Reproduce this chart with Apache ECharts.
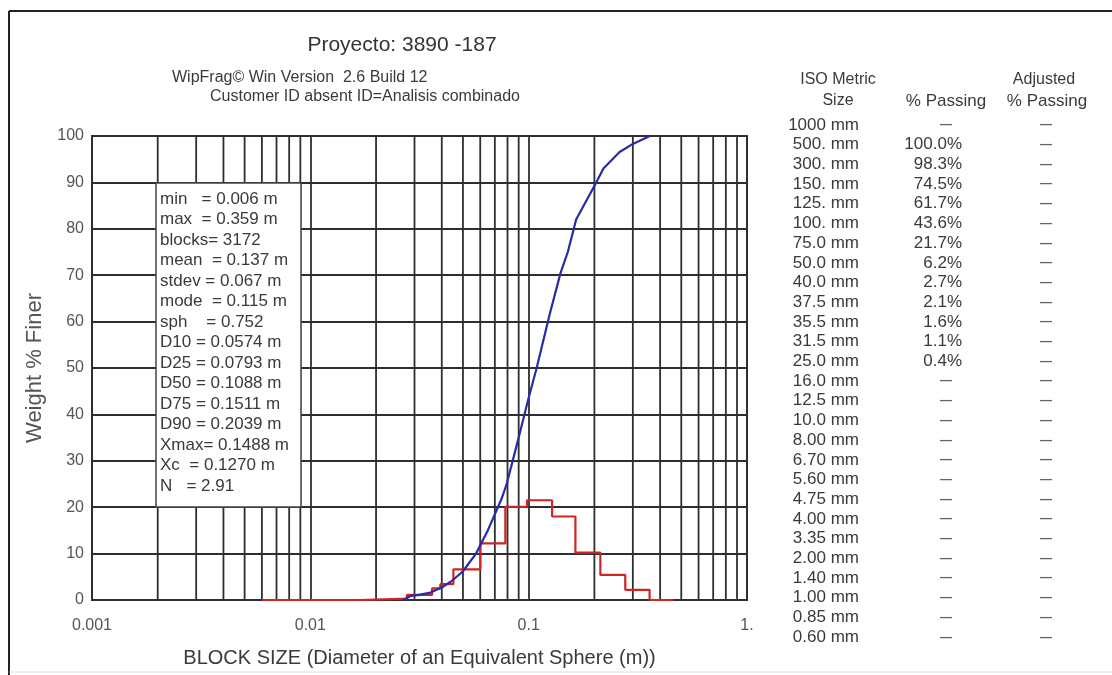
<!DOCTYPE html>
<html>
<head>
<meta charset="utf-8">
<title>WipFrag - Proyecto 3890 -187</title>
<script src="https://cdn.jsdelivr.net/npm/echarts@6/dist/echarts.min.js"></script>
<style>
  html, body { margin: 0; padding: 0; background: #fff; }
  #main { width: 1112px; height: 675px; }
</style>
</head>
<body>
<div id="main"></div>
<script>
// curva acumulada (% pasante)
const cumSize = [0.0265, 0.029, 0.0315, 0.0355, 0.04, 0.045, 0.05, 0.0574, 0.065, 0.075, 0.0793, 0.09, 0.1, 0.1088, 0.125, 0.14, 0.1511, 0.165, 0.2039, 0.22, 0.26, 0.3, 0.359];
const cumPassing = [0, 0.9, 1.1, 1.6, 2.7, 4.3, 6.2, 10, 15, 21.7, 25, 35, 43.6, 50, 61.7, 70.5, 75, 82, 90, 93, 96.5, 98.3, 100];

// histograma (bordes de clase y % en cada clase)
const histEdges = [0.006, 0.0169, 0.0277, 0.0361, 0.0394, 0.0452, 0.0601, 0.0782, 0.0983, 0.128, 0.1637, 0.213, 0.277, 0.358, 0.46];
const histPct = [0, 0.3, 1.1, 2.5, 3.4, 6.6, 12.2, 20.1, 21.5, 18.0, 10.2, 5.4, 2.2, 0];

const xTickLabels = ["0.001", "0.01", "0.1", "1."];
const minorGridX = [0.002, 0.003, 0.004, 0.005, 0.006, 0.007, 0.008, 0.009,
                    0.02, 0.03, 0.04, 0.05, 0.06, 0.07, 0.08, 0.09,
                    0.2, 0.3, 0.4, 0.5, 0.6, 0.7, 0.8, 0.9];

const statsLines = [
  "min   = 0.006 m", "max  = 0.359 m", "blocks= 3172", "mean  = 0.137 m",
  "stdev = 0.067 m", "mode  = 0.115 m", "sph    = 0.752", "D10 = 0.0574 m",
  "D25 = 0.0793 m", "D50 = 0.1088 m", "D75 = 0.1511 m", "D90 = 0.2039 m",
  "Xmax= 0.1488 m", "Xc  = 0.1270 m", "N   = 2.91"
];

// tabla ISO
const isoSizes = ["1000 mm", "500. mm", "300. mm", "150. mm", "125. mm", "100. mm", "75.0 mm", "50.0 mm",
  "40.0 mm", "37.5 mm", "35.5 mm", "31.5 mm", "25.0 mm", "16.0 mm", "12.5 mm", "10.0 mm", "8.00 mm",
  "6.70 mm", "5.60 mm", "4.75 mm", "4.00 mm", "3.35 mm", "2.00 mm", "1.40 mm", "1.00 mm", "0.85 mm", "0.60 mm"];
const passing = [null, 100.0, 98.3, 74.5, 61.7, 43.6, 21.7, 6.2, 2.7, 2.1, 1.6, 1.1, 0.4,
  null, null, null, null, null, null, null, null, null, null, null, null, null, null];
const adjusted = isoSizes.map(() => null);

const FONT = "'Liberation Sans', Arial, sans-serif";
const TXT = "#3a3a3a";
const GRID = "#2e2e2e";
const DASH = "\u2014";

const histData = histEdges.map((e, i) => [e, histPct[Math.min(i, histPct.length - 1)]]);
const cumData = cumSize.map((s, i) => [s, cumPassing[i]]);

const rowTop = 125, rowStep = 19.7;
const tableEls = [];
isoSizes.forEach((s, i) => {
  const y = rowTop + i * rowStep;
  tableEls.push({ type: "text", x: 859, y: y, style: { text: s, font: "17px " + FONT, fill: TXT, textAlign: "right", textVerticalAlign: "middle" } });
  const p = passing[i];
  tableEls.push(p == null
    ? { type: "text", x: 946, y: y, style: { text: DASH, font: "bold 12px " + FONT, fill: "#666", textAlign: "center", textVerticalAlign: "middle" } }
    : { type: "text", x: 962, y: y, style: { text: p.toFixed(1) + "%", font: "17px " + FONT, fill: TXT, textAlign: "right", textVerticalAlign: "middle" } });
  const a = adjusted[i];
  tableEls.push({ type: "text", x: 1046, y: y, style: { text: a == null ? DASH : a.toFixed(1) + "%", font: "bold 12px " + FONT, fill: "#666", textAlign: "center", textVerticalAlign: "middle" } });
});

const myChart = echarts.init(document.getElementById("main"));
const option = {
  backgroundColor: "#fff",
  animation: false,
  grid: {
    left: 92, top: 136, width: 655, height: 464,
    show: true, borderColor: GRID, borderWidth: 1.8, backgroundColor: "#fff"
  },
  xAxis: {
    type: "log",
    logBase: 10,
    min: 0.001,
    max: 1,
    name: "BLOCK SIZE (Diameter of an Equivalent Sphere (m))",
    nameLocation: "middle",
    nameGap: 48,
    nameTextStyle: { fontFamily: FONT, fontSize: 20, color: TXT },
    axisLine: { show: true, lineStyle: { color: GRID, width: 1.8 } },
    axisTick: { show: false },
    axisLabel: {
      margin: 18,
      fontFamily: FONT, fontSize: 16, color: "#555",
      formatter: (v) => xTickLabels[Math.round(Math.log10(v)) + 3]
    },
    splitLine: { show: true, lineStyle: { color: GRID, width: 1.8 } }
  },
  yAxis: {
    type: "value",
    min: 0,
    max: 100,
    interval: 10,
    name: "Weight % Finer",
    nameLocation: "middle",
    nameGap: 44,
    nameTextStyle: { fontFamily: FONT, fontSize: 22, color: "#555" },
    axisLine: { show: true, lineStyle: { color: GRID, width: 1.8 } },
    axisTick: { show: false },
    axisLabel: { margin: 8, fontFamily: FONT, fontSize: 16, color: "#555" },
    splitLine: { show: true, lineStyle: { color: GRID, width: 1.8 } }
  },
  series: [
    {
      // lineas verticales 2..9 de cada decada
      name: "minor grid",
      type: "custom",
      silent: true,
      z: 1,
      data: minorGridX.map((v) => [v, 100]),
      encode: { x: 0, y: 1 },
      renderItem: (params, api) => {
        const top = api.coord([api.value(0), api.value(1)]);
        const bottom = api.coord([api.value(0), 0]);
        return {
          type: "line",
          shape: { x1: top[0], y1: top[1], x2: bottom[0], y2: bottom[1] },
          style: { stroke: GRID, lineWidth: 1.8 }
        };
      }
    },
    {
      name: "histograma",
      type: "line",
      step: "end",
      data: histData,
      symbol: "none",
      z: 3,
      lineStyle: { color: "#d02424", width: 2.2 }
    },
    {
      name: "% pasante",
      type: "line",
      data: cumData,
      symbol: "none",
      z: 4,
      lineStyle: { color: "#2a2aa6", width: 2.2 }
    }
  ],
  graphic: [
    // marco
    { type: "line", z: 100, shape: { x1: 9, y1: 11, x2: 1112, y2: 11 }, style: { stroke: "#222", lineWidth: 2 } },
    { type: "line", z: 100, shape: { x1: 9, y1: 11, x2: 9, y2: 675 }, style: { stroke: "#222", lineWidth: 2 } },
    { type: "line", z: 100, shape: { x1: 9, y1: 672, x2: 1112, y2: 672 }, style: { stroke: "#ddd", lineWidth: 1 } },
    // titulos
    { type: "text", z: 100, x: 402, y: 45, style: { text: "Proyecto: 3890 -187", font: "21px " + FONT, fill: "#333", textAlign: "center", textVerticalAlign: "middle" } },
    { type: "text", z: 100, x: 172, y: 78, style: { text: "WipFrag\u00a9 Win Version  2.6 Build 12", font: "16px " + FONT, fill: TXT, textVerticalAlign: "middle" } },
    { type: "text", z: 100, x: 210, y: 97, style: { text: "Customer ID absent ID=Analisis combinado", font: "16px " + FONT, fill: TXT, textVerticalAlign: "middle" } },
    // cuadro de estadisticas
    { type: "rect", z: 100, shape: { x: 156, y: 183, width: 145, height: 324 }, style: { fill: "#fff", stroke: "#444", lineWidth: 1.5 } },
    { type: "text", z: 101, x: 160, y: 189, style: { text: statsLines.join("\n"), font: "17px " + FONT, lineHeight: 20.5, fill: TXT } },
    // cabecera de la tabla
    { type: "text", z: 100, x: 838, y: 80, style: { text: "ISO Metric", font: "16px " + FONT, fill: TXT, textAlign: "center", textVerticalAlign: "middle" } },
    { type: "text", z: 100, x: 838, y: 101, style: { text: "Size", font: "16px " + FONT, fill: TXT, textAlign: "center", textVerticalAlign: "middle" } },
    { type: "text", z: 100, x: 946, y: 101, style: { text: "% Passing", font: "17px " + FONT, fill: TXT, textAlign: "center", textVerticalAlign: "middle" } },
    { type: "text", z: 100, x: 1044, y: 80, style: { text: "Adjusted", font: "16px " + FONT, fill: TXT, textAlign: "center", textVerticalAlign: "middle" } },
    { type: "text", z: 100, x: 1047, y: 101, style: { text: "% Passing", font: "17px " + FONT, fill: TXT, textAlign: "center", textVerticalAlign: "middle" } }
  ].concat(tableEls)
};
myChart.setOption(option);
</script>
</body>
</html>
